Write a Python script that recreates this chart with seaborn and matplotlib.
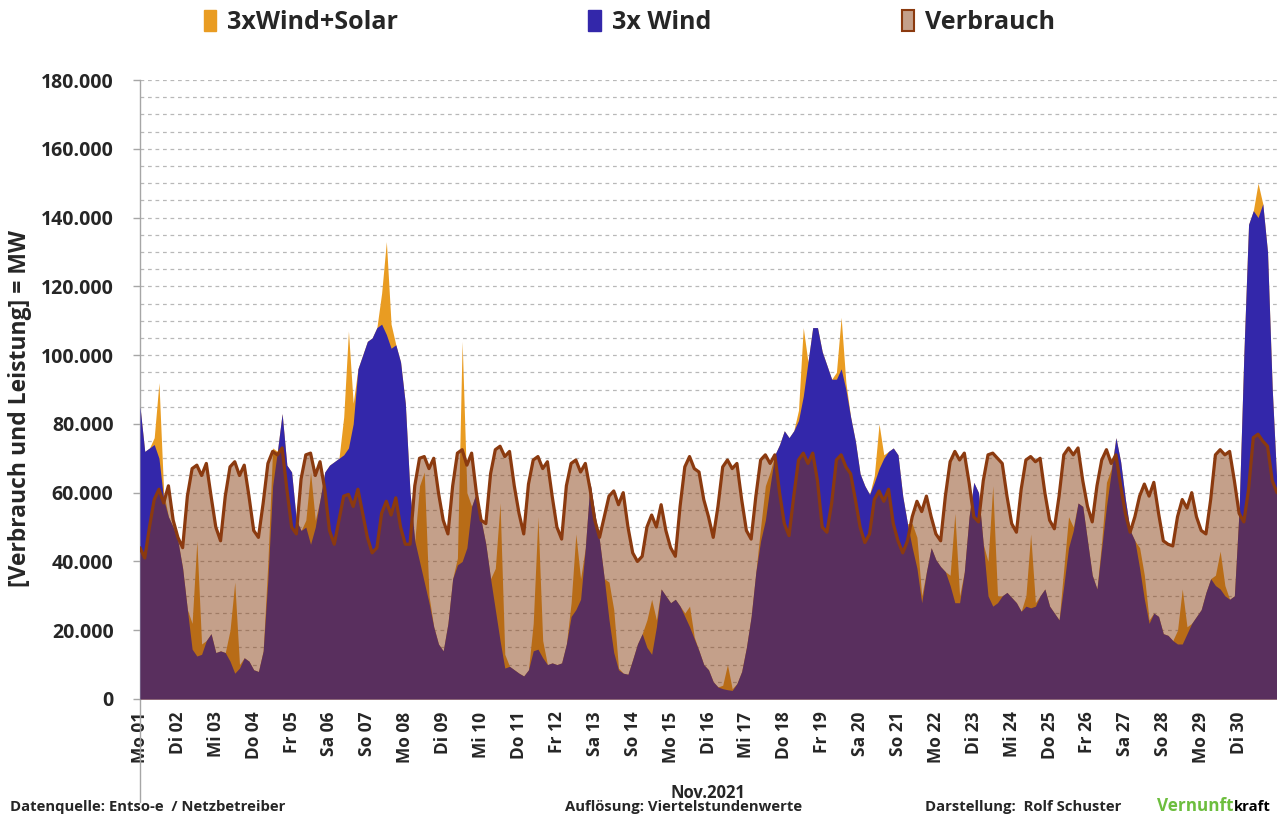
import numpy as np
import matplotlib
matplotlib.use("Agg")
import matplotlib.pyplot as plt
from matplotlib.patches import Patch
from matplotlib.ticker import FuncFormatter, MultipleLocator
import seaborn as sns

# ---------------- data (thousand MW), 3-hourly samples 00,03,...,21 h ----------------
day_labels = ["Mo 01", "Di 02", "Mi 03", "Do 04", "Fr 05", "Sa 06", "So 07", "Mo 08",
              "Di 09", "Mi 10", "Do 11", "Fr 12", "Sa 13", "So 14", "Mo 15", "Di 16",
              "Mi 17", "Do 18", "Fr 19", "Sa 20", "So 21", "Mo 22", "Di 23", "Mi 24",
              "Do 25", "Fr 26", "Sa 27", "So 28", "Mo 29", "Di 30"]

verbrauch_days = [
    [44, 41, 50, 58, 61, 57, 62, 52],
    [47, 44, 59, 67, 68, 65, 68.5, 59],
    [50, 46, 59, 67.5, 69, 65, 68, 59],
    [49, 47, 57, 68.5, 72, 71, 73, 61],
    [50, 48, 64, 71, 71.5, 65, 69, 61],
    [49, 45, 52, 59, 59.5, 56, 61, 54],
    [47, 42.5, 44, 54, 57.5, 53.5, 58.5, 50],
    [45, 45, 62, 70, 70.5, 67, 70, 60],
    [52, 48, 62, 71.5, 72.5, 68, 71.5, 60],
    [52, 51, 65.5, 72.5, 73.5, 70.5, 72, 62],
    [54, 48, 62.5, 69.5, 70.5, 67, 69, 59],
    [50, 46.5, 62, 68.5, 69.5, 66, 68.5, 61],
    [52, 47, 53, 59, 60.5, 56.5, 60, 50],
    [42.5, 40, 41.5, 50, 53.5, 50, 56.5, 49],
    [44, 41.5, 56, 67.5, 70.5, 67, 66, 58],
    [53, 47, 56, 67.5, 69.5, 67, 68.5, 58],
    [49, 46.5, 59, 69.5, 71, 68.5, 71, 60],
    [51, 47.5, 59, 69.5, 71.5, 68.5, 71.5, 63.5],
    [50, 48.5, 57, 69.5, 71, 67.5, 65.5, 58],
    [50, 45.5, 48, 58, 60.5, 57.5, 61, 51],
    [46, 42.5, 46, 53, 57.5, 54.5, 59, 53],
    [48, 46, 59, 69, 72, 69.5, 71.5, 63],
    [53, 51.5, 63.5, 71, 71.5, 70, 68.5, 59],
    [51, 48.5, 61, 69.5, 70.5, 69, 70, 60],
    [52, 49.5, 59, 71, 73, 71, 73, 63.5],
    [56, 51.5, 62, 69.5, 72.5, 68.5, 71, 62],
    [54, 48.5, 53, 59, 62.5, 59, 63, 54],
    [46, 45, 44.5, 53, 58, 55.5, 60, 53],
    [49, 48, 58, 71, 72.5, 71, 72, 63.5],
    [54, 51.5, 61, 76, 77, 75, 73.5, 63.5],
]
verbrauch_end = 60

wind3x_days = [
    [85, 72, 73, 74, 70, 58, 53, 50],
    [46, 38, 26, 14.5, 12.5, 13, 17, 19],
    [13.5, 14, 13.5, 11, 7.5, 9, 12, 11],
    [8.5, 8, 14, 35, 62, 72, 83, 68],
    [66, 52, 49, 50, 45, 50, 58, 66],
    [68, 69, 70, 71, 73, 80, 96, 100],
    [104, 105, 108, 109, 106, 102, 103, 98],
    [86, 60, 46, 40, 34, 28, 21, 16],
    [14, 22, 35, 39, 40, 44, 56, 60],
    [52, 45, 35, 26, 17, 9, 9.5, 8.5],
    [7.5, 6.7, 8.5, 14, 14.5, 12, 10, 10.5],
    [10, 10.5, 16, 24, 26, 29, 44, 63],
    [54, 46, 35, 23, 13.5, 8.5, 7.5, 7.2],
    [11.5, 16, 19, 15, 13, 21, 32, 30],
    [28, 29, 27, 24, 21, 17.5, 14, 10],
    [8.5, 5, 3.5, 3, 2.7, 2.5, 4.5, 8],
    [15, 24, 37, 46, 52, 62, 71, 74],
    [78, 76, 78, 81, 88, 98, 108, 108],
    [101, 97, 93, 93, 96, 90, 82, 75],
    [65.5, 62, 59.5, 63, 67, 70, 72, 73],
    [71, 59, 51, 44, 38, 28, 37, 44],
    [40.5, 38.5, 37, 33, 28, 28, 37, 53],
    [63, 60, 45, 30, 27, 28, 30, 31],
    [29.5, 28, 25.5, 27, 26.5, 27, 30, 32],
    [27, 25, 23, 33, 44, 49, 57, 56],
    [46, 36, 32, 44, 56, 66, 76, 69],
    [58, 49, 46, 38, 29, 22, 25, 24],
    [19, 18.5, 17, 16, 16, 19, 22, 24],
    [26, 31, 35, 33, 32, 30, 29, 30],
    [55, 100, 138, 142, 140, 144, 130, 90],
]
wind3x_end = 62

# 3xWind+Solar totals at 09, 12, 15 h (solar is zero outside these hours)
wind_solar_midday = [
    [76, 92, 60], [22, 46, 16], [20, 34, 10], [40, 73, 72], [52, 66, 52],
    [82, 107, 86], [118, 133, 109], [62, 66, 30], [41, 104, 60], [38, 57, 13],
    [22, 53, 17], [28, 48, 35], [34, 26, 9], [23, 29, 23], [25, 27, 18],
    [4, 10, 3], [50, 62, 66], [84, 108, 98], [95, 111, 92], [65, 80, 71],
    [51, 47, 30], [36, 54, 30], [40, 62, 30], [30, 48, 28], [38, 53, 50],
    [46, 63, 67], [44, 36, 23], [20, 32, 21], [36, 43, 33], [142, 150, 144],
]

# ---------------- build series ----------------
verbrauch = np.array(sum(verbrauch_days, []) + [verbrauch_end], dtype=float) * 1000
wind = np.array(sum(wind3x_days, []) + [wind3x_end], dtype=float) * 1000
wind_solar = wind.copy()
for d, trip in enumerate(wind_solar_midday):
    for j, v in enumerate(trip):
        i = d * 8 + 3 + j
        wind_solar[i] = max(wind_solar[i], v * 1000)
t = np.arange(len(verbrauch)) * 3 / 24.0  # days since 1 Nov

# ---------------- style ----------------
sns.set_style("white")
plt.rcParams["font.family"] = ["Open Sans", "DejaVu Sans"]
plt.rcParams["font.weight"] = "bold"

C_ORANGE = "#E99C22"
C_BLUE = "#3327AA"
C_TAN = (132 / 255, 57 / 255, 11 / 255, 0.48)
C_LINE = "#8B3A0F"

fig = plt.figure(figsize=(12.77, 8.17), dpi=100)
ax = fig.add_axes([140 / 1277, 1 - 699 / 817, 1137 / 1277, 619 / 817])

ax.fill_between(t, 0, wind_solar, color=C_ORANGE, lw=0, zorder=2)
ax.fill_between(t, 0, wind, color=C_BLUE, lw=0, zorder=3)
ax.fill_between(t, 0, verbrauch, color=C_TAN, lw=0, zorder=4)
sns.lineplot(x=t, y=verbrauch, color=C_LINE, lw=2.3, ax=ax, zorder=5, legend=False)

ax.set_xlim(0, 30)
ax.set_ylim(0, 180000)

# grid
ax.yaxis.set_minor_locator(MultipleLocator(5000))
ax.yaxis.set_major_locator(MultipleLocator(20000))
ax.grid(False)
for yv in np.arange(5000, 180001, 5000):
    ax.axhline(yv, color="#B8B8B8", lw=0.9, ls=(0, (3, 3)), zorder=0)

for s in ["top", "right", "bottom"]:
    ax.spines[s].set_visible(False)
ax.spines["left"].set_color("#A6A6A6")
ax.spines["left"].set_linewidth(1.0)
ax.plot([0, 0], [0, -0.167], transform=ax.transAxes, color="#A6A6A6", lw=1.0, clip_on=False)

ax.yaxis.set_major_formatter(FuncFormatter(lambda v, p: f"{int(round(v)):,}".replace(",", ".")))
ax.tick_params(axis="y", which="major", length=5, width=1, color="#A6A6A6", pad=14,
               labelsize=14, left=True)
ax.tick_params(axis="y", which="minor", length=0)
for lab in ax.get_yticklabels():
    lab.set_fontweight("bold")

ax.set_xticks(np.arange(30))
ax.set_xticklabels(day_labels, rotation=90, fontsize=12.5, fontweight="bold")
ax.tick_params(axis="x", length=0, pad=9)

ax.set_ylabel("[Verbrauch und Leistung] = MW", fontsize=16.5, fontweight="bold")
ax.yaxis.set_label_coords(-0.095, 0.47)

# legend
handles = [Patch(facecolor=C_ORANGE, edgecolor=C_ORANGE, label="3xWind+Solar"),
           Patch(facecolor=C_BLUE, edgecolor=C_BLUE, label="3x Wind"),
           Patch(facecolor="#C4A08A", edgecolor=C_LINE, lw=1.5, label="Verbrauch")]
fig.legend(handles=handles, loc="center", bbox_to_anchor=(0.493, 0.972), ncol=3,
           frameon=False, prop={"size": 18, "weight": "bold"}, handlelength=0.5,
           handleheight=0.9, handletextpad=0.45, columnspacing=7.6)

# footer
fig.text(708 / 1277, 1 - 793 / 817, "Nov.2021", ha="center", va="center", fontsize=12,
         fontweight="bold")
fig.text(10 / 1277, 1 - 807 / 817, "Datenquelle: Entso-e  / Netzbetreiber", ha="left",
         va="center", fontsize=10.7, fontweight="bold")
fig.text(565 / 1277, 1 - 807 / 817, "Auflösung: Viertelstundenwerte", ha="left",
         va="center", fontsize=10.7, fontweight="bold")
fig.text(925 / 1277, 1 - 807 / 817, "Darstellung:  Rolf Schuster", ha="left",
         va="center", fontsize=10.7, fontweight="bold")
tv = fig.text(1157 / 1277, 1 - 806 / 817, "Vernunft", ha="left", va="center",
              fontsize=12.3, fontweight="bold", color="#6DBE3E")
fig.canvas.draw()
bb = tv.get_window_extent()
fig.text(bb.x1 / 1277 + 0.5 / 1277, 1 - 807 / 817, "kraft", ha="left", va="center",
         fontsize=10.7, fontweight="bold", color="black")

fig.savefig("out.png", dpi=100)
